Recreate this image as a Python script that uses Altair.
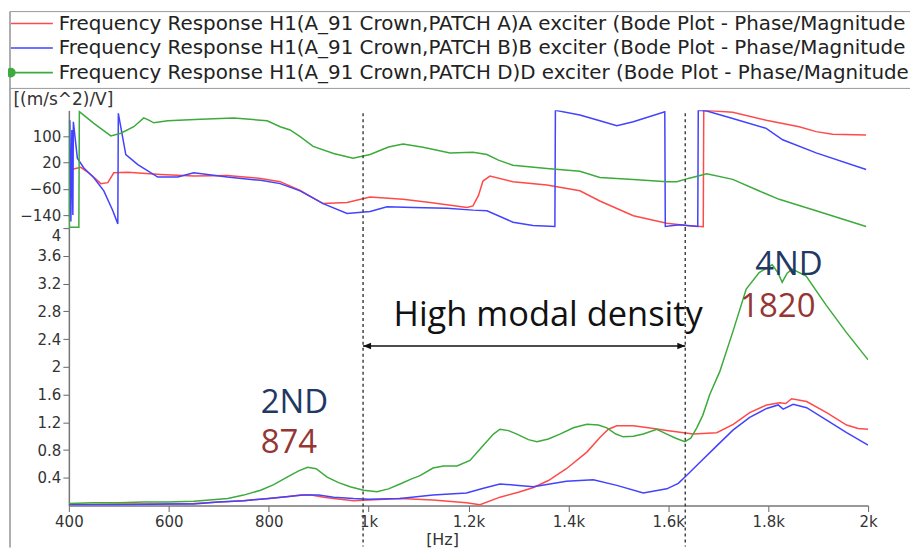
import altair as alt
import pandas as pd

SERIES = [
    "Frequency Response H1(A_91 Crown,PATCH A)A exciter (Bode Plot - Phase/Magnitude",
    "Frequency Response H1(A_91 Crown,PATCH B)B exciter (Bode Plot - Phase/Magnitude",
    "Frequency Response H1(A_91 Crown,PATCH D)D exciter (Bode Plot - Phase/Magnitude",
]
COLORS = ["#ff4a4a", "#4242ff", "#3cab3c"]

# ---------- magnitude [(m/s^2)/V] ----------
A_MAG_HZ = [400, 500, 600, 650, 700, 750, 800, 840, 863, 885, 910, 930, 970, 1000, 1063, 1129, 1196, 1223,
            1263, 1300, 1330, 1360, 1396, 1437, 1463, 1480, 1497, 1530, 1560, 1597, 1650, 1697, 1730, 1763,
            1797, 1823, 1835, 1847, 1877, 1917, 1957, 1980, 2000]
A_MAG = [0.01, 0.02, 0.02, 0.03, 0.05, 0.07, 0.10, 0.13, 0.15, 0.15, 0.12, 0.10, 0.07, 0.08, 0.10, 0.08, 0.04, 0.01,
         0.12, 0.19, 0.26, 0.36, 0.53, 0.77, 0.98, 1.10, 1.15, 1.15, 1.12, 1.08, 1.03, 1.05, 1.17, 1.34,
         1.45, 1.48, 1.47, 1.54, 1.50, 1.34, 1.16, 1.11, 1.10]

B_MAG_HZ = [400, 500, 600, 650, 700, 750, 800, 840, 870, 900, 930, 970, 1000, 1063, 1129, 1196, 1230, 1263,
            1300, 1330, 1396, 1450, 1497, 1550, 1597, 1620, 1636, 1663, 1697, 1730, 1763, 1797, 1820, 1830,
            1850, 1877, 1917, 1957, 2000]
B_MAG = [0.01, 0.01, 0.02, 0.02, 0.05, 0.07, 0.10, 0.13, 0.15, 0.15, 0.12, 0.10, 0.09, 0.10, 0.15, 0.18, 0.25, 0.31,
         0.29, 0.27, 0.35, 0.37, 0.29, 0.18, 0.24, 0.32, 0.43, 0.62, 0.86, 1.09, 1.27, 1.40, 1.45, 1.39,
         1.46, 1.41, 1.23, 1.05, 0.87]

D_MAG_HZ = [400, 450, 500, 550, 600, 650, 700, 718, 750, 784, 810, 837, 860, 878, 895, 917, 940, 963, 990,
            1017, 1040, 1063, 1085, 1103, 1129, 1150, 1177, 1203, 1229, 1250, 1263, 1280, 1297, 1320, 1337,
            1360, 1383, 1410, 1437, 1460, 1477, 1495, 1510, 1530, 1550, 1577, 1597, 1615, 1633, 1645, 1657,
            1669, 1683, 1703, 1729, 1756, 1782, 1808, 1820, 1828, 1838, 1848, 1876, 1916, 1956, 2000]
D_MAG = [0.03, 0.04, 0.04, 0.05, 0.05, 0.06, 0.09, 0.10, 0.15, 0.22, 0.30, 0.41, 0.50, 0.55, 0.53, 0.41, 0.33, 0.27, 0.22,
         0.20, 0.24, 0.31, 0.38, 0.43, 0.54, 0.57, 0.57, 0.65, 0.86, 1.03, 1.10, 1.08, 1.03, 0.95, 0.92,
         0.96, 1.03, 1.12, 1.17, 1.16, 1.12, 1.03, 0.99, 1.00, 1.03, 1.10, 1.03, 0.97, 0.92, 0.97, 1.12,
         1.30, 1.60, 1.93, 2.50, 3.12, 3.36, 3.47, 3.35, 3.22, 3.35, 3.41, 3.31, 2.89, 2.50, 2.10]

# ---------- phase [deg] ----------
A_PH_HZ = [405, 424, 444, 464, 478, 490, 518, 584, 650, 717, 784, 823, 863, 909, 957, 1003, 1069, 1123, 1197,
           1209, 1220, 1229, 1243, 1289, 1357, 1423, 1463, 1530, 1597, 1637, 1670, 1671, 1729, 1796, 1862,
           1896, 1929, 1996]
A_PH = [-1, 6, -16, -44, -41, -11, -9, -16, -21, -19, -28, -38, -65, -105, -102, -85, -92, -102, -117,
        -112, -80, -36, -21, -38, -48, -66, -97, -142, -165, -172, -176, 180, 174, 150, 130,
        115, 107, 105]

B_PH_HZ = [400, 402, 404, 406, 408, 409, 417, 430, 450, 470, 488, 498, 499, 514, 538, 578, 618, 650, 717, 784,
           823, 863, 909, 957, 1003, 1037, 1089, 1157, 1209, 1237, 1289, 1329, 1373, 1374, 1423, 1463, 1497,
           1530, 1593, 1594, 1623, 1659, 1660, 1677, 1729, 1796, 1829, 1896, 1996]
B_PH = [-150, 150, -160, 120, -140, 145, 34, 4, -26, -66, -127, -167, 171, 45, 14, -24, -24, -11, -24, -34,
        -44, -66, -105, -135, -129, -115, -117, -119, -125, -127, -162, -172, -175, 180, 166, 148, 133,
        145, 176, -175, -170, -175, 180, 178, 155, 125, 90, 50, -1]

D_PH_HZ = [400, 401, 420, 421, 450, 484, 504, 530, 550, 560, 570, 598, 664, 730, 797, 823, 843, 863, 889, 930,
           969, 1003, 1040, 1069, 1109, 1163, 1209, 1237, 1260, 1289, 1357, 1423, 1463, 1530, 1597, 1617,
           1640, 1677, 1729, 1780, 1822, 1896, 1996]
D_PH = [150, -177, -177, 176, 140, 102, 110, 130, 157, 150, 142, 148, 153, 157, 148, 130, 120, 100, 70, 48,
        34, 45, 68, 77, 67, 50, 52, 45, 28, 12, 2, -6, -25, -31, -38, -38,
        -28, -14, -31, -65, -92, -127, -175]

VLINES = [989, 1634]
X_TICKS = [400, 600, 800, 1000, 1200, 1400, 1600, 1800, 2000]
PHASE_TICKS = [100, 20, -60, -140]
MAG_TICKS = [0.4, 0.8, 1.2, 1.6, 2.0, 2.4, 2.8, 3.2, 3.6, 4.0]

MODE_TEXT = ["2ND", "4ND"]
MODE_HZ = [784, 1774]
MODE_Y = [1.33, 3.33]
FREQ_TEXT = ["874", "1820"]
FREQ_HZ = [784, 1744]
FREQ_Y = [0.75, 2.72]
NOTE_TEXT = ["High modal density"]
NOTE_HZ = [1050]
NOTE_Y = [2.59]
ARROW_Y = [2.30]


def long(hz_lists, val_lists):
    rows = []
    for name, hz, vals in zip(SERIES, hz_lists, val_lists):
        for i, (h, v) in enumerate(zip(hz, vals)):
            rows.append({"series": name, "hz": h, "val": v, "idx": i})
    return pd.DataFrame(rows)


df_mag = long([A_MAG_HZ, B_MAG_HZ, D_MAG_HZ], [A_MAG, B_MAG, D_MAG])
df_ph = long([A_PH_HZ, B_PH_HZ, D_PH_HZ], [A_PH, B_PH, D_PH])
df_v = pd.DataFrame({"hz": VLINES})
one = pd.DataFrame({"k": [0]})

FONT = "DejaVu Sans"
AX = dict(labelFont=FONT, labelFontSize=15, labelColor="#333", tickColor="#666", domainColor="#777",
          tickSize=6, domainWidth=1.5, tickWidth=1, grid=False, labelOverlap=False, labelFlush=False)

TOP_H = 118
BOT_H = 278
W = 801

x_scale = alt.Scale(domain=[400, 2000], nice=False, zero=False)
ph_scale = alt.Scale(domain=[-180, 180], nice=False)
mag_scale = alt.Scale(domain=[0, 4], nice=False)
color_scale = alt.Scale(domain=SERIES, range=COLORS)

LINE_PATH = "M-4.2,0L4.2,0"
# line with a solid dot at its left end (dot built from concentric rings)
DOT_PATH = ("M-4.2,0L4.2,0"
            "M-3.4,0A0.8,0.8 0 1,1 -5.0,0A0.8,0.8 0 1,1 -3.4,0"
            "M-3.6,0A0.6,0.6 0 1,1 -4.8,0A0.6,0.6 0 1,1 -3.6,0"
            "M-3.8,0A0.4,0.4 0 1,1 -4.6,0A0.4,0.4 0 1,1 -3.8,0"
            "M-4.0,0A0.2,0.2 0 1,1 -4.4,0A0.2,0.2 0 1,1 -4.0,0")

legend = alt.Legend(orient="none", legendX=-59, legendY=-99, title=None,
                    symbolSize=100, symbolStrokeWidth=1.6, symbolOffset=10,
                    labelFont=FONT, labelFontSize=19.9, labelColor="#222", labelLimit=0, labelOffset=17,
                    rowPadding=3.6, padding=2)

phase_lines = alt.Chart(df_ph).mark_line(strokeWidth=1.5, clip=True).encode(
    x=alt.X("hz:Q", scale=x_scale, axis=None),
    y=alt.Y("val:Q", scale=ph_scale,
            axis=alt.Axis(values=PHASE_TICKS, tickCount=len(PHASE_TICKS) + 2, title="[(m/s^2)/V]",
                          titleAngle=0, titleAlign="left",
                          titleBaseline="alphabetic", titleX=-56, titleY=-6, titleFont=FONT,
                          titleFontSize=17, titleFontWeight="normal", titleColor="#333", **AX)),
    color=alt.Color("series:N", scale=color_scale, legend=legend),
    order="idx:Q",
)

legend_pts = alt.Chart(df_ph).mark_point(filled=False, opacity=1, strokeWidth=1.6).transform_filter(
    "false").encode(
    x=alt.X("hz:Q", scale=x_scale),
    y=alt.Y("val:Q", scale=ph_scale),
    color=alt.Color("series:N", scale=color_scale, legend=legend),
    shape=alt.Shape("series:N", scale=alt.Scale(domain=SERIES, range=[LINE_PATH, LINE_PATH, DOT_PATH]),
                    legend=legend),
)

vrule_top = alt.Chart(df_v).mark_rule(strokeDash=[3, 3], color="#444", strokeWidth=1.5).encode(
    x=alt.X("hz:Q", scale=x_scale), y=alt.value(3), y2=alt.value(TOP_H))

frame_v = alt.Chart(one).mark_rule(color="#777", strokeWidth=1.2).encode(
    x=alt.value(-59), y=alt.value(-99), y2=alt.value(438))
frame_top = alt.Chart(one).mark_rule(color="#999", strokeWidth=1).encode(
    x=alt.value(-59), x2=alt.value(843), y=alt.value(-99))
frame_h = alt.Chart(one).mark_rule(color="#999", strokeWidth=1).encode(
    x=alt.value(-59), x2=alt.value(843), y=alt.value(-22))

top = alt.layer(frame_v, frame_top, frame_h, phase_lines, legend_pts, vrule_top).properties(
    width=W, height=TOP_H)

mag_lines = alt.Chart(df_mag).mark_line(strokeWidth=1.5, clip=True).encode(
    x=alt.X("hz:Q", scale=x_scale,
            axis=alt.Axis(values=X_TICKS, tickCount=len(X_TICKS) + 2,
                          labelExpr="datum.value >= 1000 ? format(datum.value/1000, '~g') + 'k' : format(datum.value, 'd')",
                          title="[Hz]", titleX=374, titleY=39, titleBaseline="alphabetic", titleFont=FONT,
                          titleFontSize=16, titleFontWeight="normal", titleColor="#333", labelPadding=3, **AX)),
    y=alt.Y("val:Q", scale=mag_scale,
            axis=alt.Axis(values=MAG_TICKS, tickCount=len(MAG_TICKS) + 2, title=None,
                          labelExpr="format(datum.value, '~g')",
                          labelBaseline=alt.condition("datum.value >= 3.9", alt.value("top"), alt.value("middle")),
                          **AX)),
    color=alt.Color("series:N", scale=color_scale, legend=None),
    order="idx:Q",
)

vrule_bot = alt.Chart(df_v).mark_rule(strokeDash=[3, 3], color="#444", strokeWidth=1.5).encode(
    x=alt.X("hz:Q", scale=x_scale), y=alt.value(0), y2=alt.value(BOT_H + 41))


def txt(texts, hz, ys, color, size):
    return alt.Chart(pd.DataFrame({"t": texts, "hz": hz, "y": ys})).mark_text(
        align="left", baseline="alphabetic", font="Open Sans", fontSize=size, color=color).encode(
        x=alt.X("hz:Q", scale=x_scale), y=alt.Y("y:Q", scale=mag_scale), text="t:N")


mode_txt = txt(MODE_TEXT, MODE_HZ, MODE_Y, "#1f3864", 33)
freq_txt = txt(FREQ_TEXT, FREQ_HZ, FREQ_Y, "#943634", 33)
note_txt = txt(NOTE_TEXT, NOTE_HZ, NOTE_Y, "#111", 34.5)

arrow_df = pd.DataFrame({"x1": [VLINES[0]], "x2": [VLINES[1]], "y": ARROW_Y})
arrow_line = alt.Chart(arrow_df).mark_rule(color="#111", strokeWidth=1.5).encode(
    x=alt.X("x1:Q", scale=x_scale), x2="x2:Q", y=alt.Y("y:Q", scale=mag_scale))
head_l = alt.Chart(arrow_df).mark_point(shape="M0,0L2,-0.8L2,0.8Z", filled=True, size=64, color="#111",
                                        opacity=1).encode(
    x=alt.X("x1:Q", scale=x_scale), y=alt.Y("y:Q", scale=mag_scale))
head_r = alt.Chart(arrow_df).mark_point(shape="M0,0L-2,-0.8L-2,0.8Z", filled=True, size=64, color="#111",
                                        opacity=1).encode(
    x=alt.X("x2:Q", scale=x_scale), y=alt.Y("y:Q", scale=mag_scale))

bottom = alt.layer(mag_lines, vrule_bot, mode_txt, freq_txt, note_txt, arrow_line, head_l, head_r).properties(
    width=W, height=BOT_H)

chart = alt.vconcat(top, bottom, spacing=0, bounds="flush").resolve_scale(
    color="independent", shape="independent").configure_view(stroke=None).configure_axis(
    labelOverlap=False).properties(
    padding={"left": 1, "top": 2, "right": 0, "bottom": 0}, background="white")

chart.save("out.html", embed_options={"renderer": "svg", "actions": False})
